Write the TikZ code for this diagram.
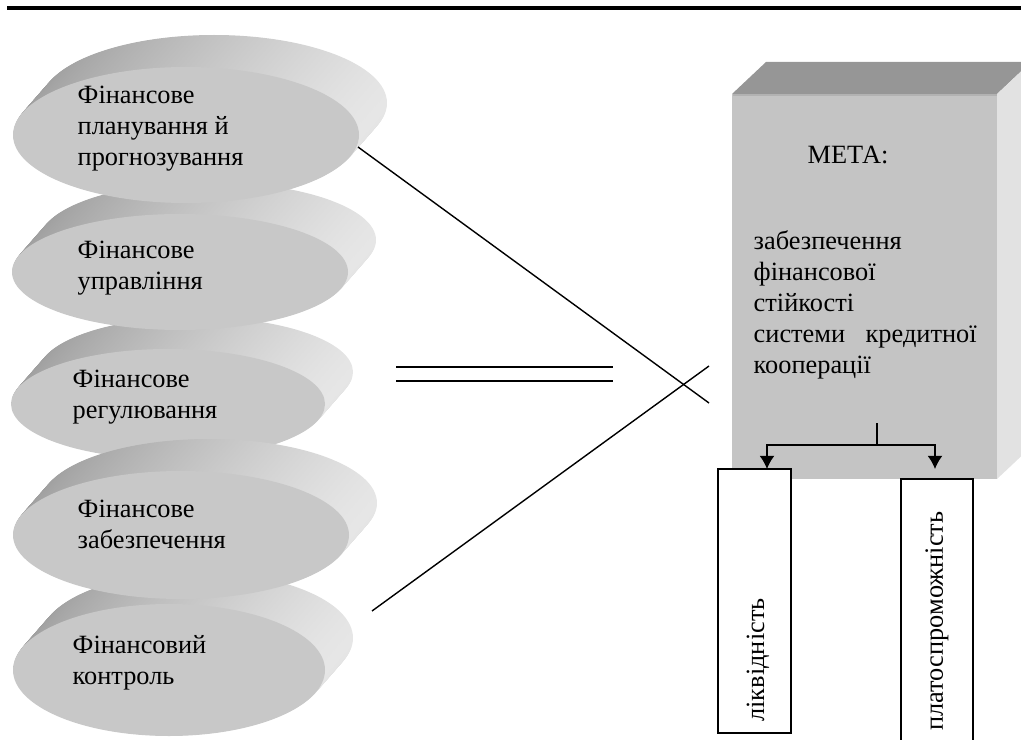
\documentclass[tikz,border=0pt]{standalone}
\usepackage{fontspec}
\setmainfont{Liberation Serif}
\usetikzlibrary{arrows,arrows.meta,positioning}

\definecolor{facegray}{HTML}{C8C8C8}
\definecolor{rimdark}{HTML}{9E9E9E}
\definecolor{rimlight}{HTML}{E6E6E6}
\definecolor{boxfront}{HTML}{C4C4C4}
\definecolor{boxtop}{HTML}{969696}
\definecolor{boxside}{HTML}{E2E2E2}
\definecolor{boxedge}{HTML}{B2B2B2}

\tikzset{
  disktext/.style={font=\fontsize{15}{17.6}\selectfont, align=left, anchor=west, inner sep=0pt},
  goaltext/.style={font=\fontsize{15}{17.6}\selectfont, align=left, inner sep=0pt},
  resbox/.style={draw, fill=white, inner sep=0pt},
  restext/.style={font=\fontsize{15}{17.6}\selectfont, rotate=90, inner sep=0pt}
}

% centre x, centre y, x radius, y radius (pixels)
\newcommand{\findisk}[4]{%
  \foreach \t in {1,0.98,...,0.01}
    \shade[left color=rimdark, right color=rimlight]
      (#1+28*\t,#2-32*\t) ellipse [x radius=#3, y radius=#4];
  \fill[facegray] (#1,#2) ellipse [x radius=#3, y radius=#4];
}

\begin{document}
\begin{tikzpicture}[x=0.02cm, y=-0.02cm, >={Latex[length=7.5pt,width=8.5pt]}, line width=0.8pt]
	\path[use as bounding box, clip] (0,0) rectangle (1021,740);
	\draw[line width=0.08cm] (7,8) -- (1021,8);
	% disks, lower ones first
	\findisk{169}{670}{156}{66}
	\findisk{168}{404}{157}{55}
	\findisk{181}{535}{168}{64}
	\findisk{180}{272}{168}{58}
	\findisk{186}{135}{173}{68}
	\node[disktext] (plan) at (77,129) {Фінансове\\планування й\\прогнозування};
	\node[disktext] (upr) at (77,268) {Фінансове\\управління};
	\node[disktext] (reg) at (72,397) {Фінансове\\регулювання};
	\node[disktext] (zab) at (77,524) {Фінансове\\забезпечення};
	\node[disktext] (ctrl) at (72,663) {Фінансовий\\контроль};
	% goal box
	\fill[boxtop] (732,94) -- (766,62) -- (1031,62) -- (997,94) -- cycle;
	\fill[boxside] (997,94) -- (1031,62) -- (1031,447) -- (997,479) -- cycle;
	\fill[boxfront] (732,94) rectangle (997,479);
	\draw[boxedge, line width=1pt] (733,95) -- (997,95);
	\node[goaltext] (meta) at (848,155) {МЕТА:};
	\node[goaltext, anchor=west] (aim) at (753,305) {забезпечення\\фінансової\\стійкості\\\makebox[4.46cm][s]{системи кредитної}\\кооперації};
	% results
	\node[resbox, minimum width=1.46cm, minimum height=5.28cm] (liqbox) at (754.5,601) {};
	\node[resbox, minimum width=1.44cm, minimum height=5.62cm] (platbox) at (937,619.5) {};
	\node[restext] (liq) at (758,660) {ліквідність};
	\node[restext] (plat) at (937,621) {платоспроможність};
	\coordinate (split-top) at (877,423);
	\coordinate (split) at (877,445);
	\coordinate (liq-in) at (767,469);
	\coordinate (plat-in) at (935,469);
	\draw (split-top) -- (split);
	\draw[->] (split) -| (liq-in);
	\draw[->] (split) -| (plat-in);
	% lines to the goal
	\coordinate (plan-e) at (358,147);
	\coordinate (ctrl-e) at (372,611);
	\coordinate (x1) at (709,403);
	\coordinate (x2) at (709,366);
	\draw (plan-e) -- (x1);
	\draw (ctrl-e) -- (x2);
	\draw (396,367) -- (613,367);
	\draw (396,381) -- (613,381);
\end{tikzpicture}
\end{document}
